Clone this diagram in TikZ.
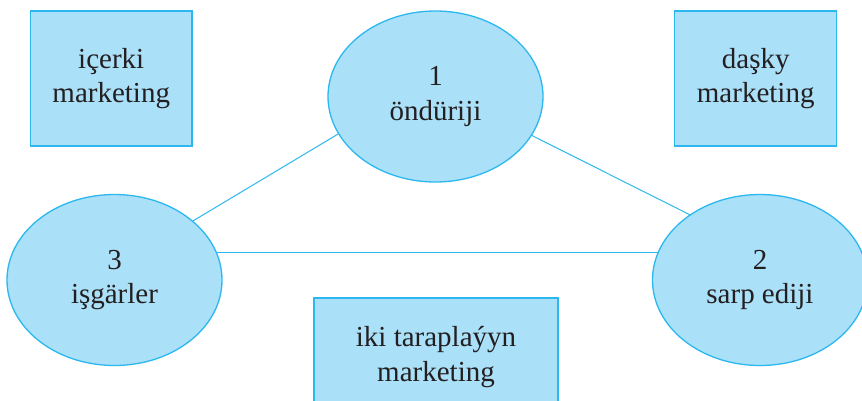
\documentclass[tikz,border=0pt]{standalone}
\usepackage{fontspec}
\setmainfont{Liberation Serif}
\usetikzlibrary{shapes.geometric}
\definecolor{fillblue}{HTML}{ABE0F9}
\definecolor{lineblue}{HTML}{2CB8EF}
\definecolor{txt}{HTML}{231F20}
\tikzset{
  base/.style={fill=fillblue, draw=lineblue, line width=1.3pt, text=txt, align=center,
    inner sep=0pt, outer sep=0pt, font=\fontsize{29}{34.5}\selectfont},
  mbox/.style={base, rectangle},
  actor/.style={base, ellipse, minimum width=215pt, minimum height=171pt},
  link/.style={draw=lineblue, line width=1pt}
}
\begin{document}
\begin{tikzpicture}[x=1pt,y=-1pt]
\useasboundingbox (0,0) rectangle (862,400);
\clip (0,0) rectangle (862,400);
\fill[white] (0,0) rectangle (862,400);
\node[mbox, minimum width=161.5pt, minimum height=135pt] (inner) at (111.25,78.5) {içerki\\marketing};
\node[mbox, minimum width=162pt, minimum height=135pt] (outer) at (755.7,78.5) {daşky\\marketing};
\node[mbox, minimum width=244pt, minimum height=118pt] (both) at (436,357) {iki taraplaýyn\\marketing};
\node[actor] (prod) at (435.5,96.5) {1\\öndüriji};
\node[actor] (staff) at (114.5,280) {3\\işgärler};
\node[actor] (cons) at (760,280) {2\\sarp ediji};
\draw[link] (prod.201) -- (staff.37.4);
\draw[link] (prod.338.8) -- (cons.137.5);
\draw[link] (staff.15.4) -- (staff.15.4 -| cons.164.6);
\end{tikzpicture}
\end{document}
